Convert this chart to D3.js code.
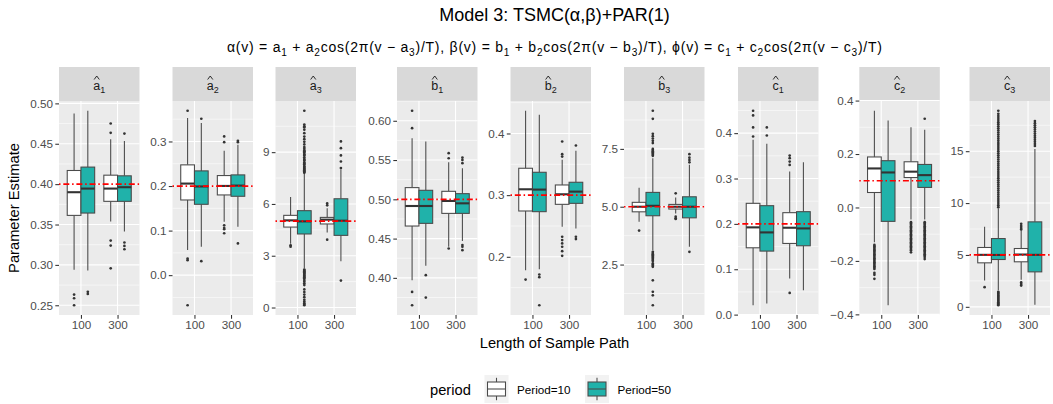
<!DOCTYPE html>
<html><head><meta charset="utf-8">
<script src="https://cdn.jsdelivr.net/npm/d3@7"></script>
<style>
body{margin:0;background:#fff;}
svg{display:block;font-family:"Liberation Sans",Arial,Helvetica,sans-serif;}
</style>
</head><body>
<svg id="chart" width="1053" height="404"></svg>
<script>
// ---------------- data ----------------
const facetLetters = ["a","a","a","b","b","b","c","c","c"];
const facetSubs    = ["1","2","3","1","2","3","1","2","3"];
const lengths = ["100","300"];
const periods = ["Period=10","Period=50"];
const trueValues = [0.4, 0.2, 5, 0.5, 0.3, 5, 0.2, 0.1, 5];
const yTicks = [
  [0.25,0.30,0.35,0.40,0.45,0.50],
  [0.0,0.1,0.2,0.3],
  [0,3,6,9],
  [0.40,0.45,0.50,0.55,0.60],
  [0.2,0.3,0.4],
  [2.5,5.0,7.5],
  [0.0,0.1,0.2,0.3,0.4],
  [-0.4,-0.2,0.0,0.2,0.4],
  [0,5,10,15]
];
const yFormats = [".2f",".1f","d",".2f",".1f",".1f",".1f",".1f","d"];
// box order: [100 P10, 100 P50, 300 P10, 300 P50]; stats: [lower whisker, q1, median, q3, upper whisker]
const a1Stats = [[0.294,0.3613,0.390,0.4169,0.4875],[0.2932,0.3642,0.3945,0.4211,0.4909],[0.3538,0.3787,0.3945,0.4111,0.4556],[0.3414,0.3787,0.3962,0.4103,0.4535]];
const a2Stats = [[0.0562,0.1687,0.2055,0.2475,0.3525],[0.0637,0.159,0.199,0.234,0.3413],[0.12,0.18,0.2002,0.2235,0.279],[0.1087,0.177,0.201,0.225,0.2925]];
const a3Stats = [[3.7,4.66,5.05,5.34,6.4],[2.26,4.26,4.99,5.61,7.75],[4.35,4.84,5.09,5.22,5.75],[2.68,4.18,5.03,6.3,8.0]];
const b1Stats = [[0.397,0.466,0.4915,0.5149,0.5779],[0.4153,0.4694,0.4915,0.5115,0.5736],[0.4396,0.4821,0.4979,0.5102,0.5472],[0.4468,0.4821,0.4949,0.5072,0.5396]];
const b2Stats = [[0.1783,0.2743,0.3095,0.3436,0.4369],[0.18,0.2732,0.309,0.3371,0.4304],[0.2488,0.2851,0.3014,0.3165,0.3572],[0.2461,0.2867,0.3057,0.3209,0.3718]];
const b3Stats = [[4.35,4.78,5.0,5.19,5.82],[3.12,4.61,5.04,5.62,7.1],[4.71,4.9,5.0,5.1,5.4],[3.27,4.52,5.0,5.43,6.81]];
const c1Stats = [[0.0206,0.1473,0.1923,0.2453,0.3853],[0.0243,0.14,0.1812,0.2401,0.3764],[0.0796,0.1569,0.1915,0.2247,0.3153],[0.0538,0.1517,0.19,0.2269,0.3359]];
const c2Stats = [[-0.13,0.056,0.146,0.189,0.362],[-0.366,-0.052,0.131,0.175,0.325],[-0.045,0.112,0.134,0.171,0.30],[-0.045,0.075,0.121,0.161,0.291]];
const c3Stats = [[2.54,4.24,5.01,5.72,7.71],[1.6,4.56,5.0,6.58,9.5],[2.6,4.34,5.04,5.62,7.3],[0.2,3.37,5.01,8.19,15.2]];

const a1Outliers = [[0.2633,0.2587,0.25],[0.2666,0.2641],[0.4751,0.4635,0.3301,0.3239,0.2957],[0.4626,0.3277,0.3235,0.3194]];
const a2Outliers = [[0.369,0.0374,0.0337,-0.0676],[0.351,0.0314],[0.3113,0.2985,0.112,0.106,0.103,0.094],[0.3015,0.2985,0.0712]];
const a3Outliers = [[3.6,3.52],
  [7.8,7.85,7.9,7.95,8.0,8.05,8.1,8.15,8.2,8.3,8.35,8.4,8.5,8.55,8.6,8.7,8.8,8.85,8.9,9.0,9.05,9.1,9.2,9.3,9.45,9.6,9.75,9.9,10.1,10.3,10.45,10.5,10.6,11.4,
   2.2,2.15,2.1,2.05,2.0,1.95,1.9,1.85,1.8,1.75,1.7,1.6,1.5,1.4,1.3,1.05,0.9,0.75,0.6,0.45,0.35,0.25,0.18,0.13],
  [6.03,5.92,3.93],
  [8.08,8.46,8.81,9.23,9.62,1.56]];
const b1Outliers = [[0.6128,0.5906,0.3821,0.3651],[0.4034,0.3749],[0.5587,0.5523,0.4374],[0.5532,0.5502,0.546,0.4417,0.4396,0.4353]];
const b2Outliers = [[0.1631],[0.1713,0.1669,0.1214],[0.387,0.3664,0.3626,0.2325,0.2271,0.2217,0.2163,0.2092,0.2016],[0.3805,0.2325,0.2287]];
const b3Outliers = [[3.97],
  [9.15,8.8,8.15,8.05,7.95,7.85,7.75,7.5,7.45,7.4,7.35,7.3,7.25,7.2,
   3.05,3.0,2.95,2.9,2.85,2.8,2.75,2.7,2.65,2.55,2.5,2.45,2.4,1.82,1.32,1.17,0.74],
  [5.58,4.57,4.5,4.47],
  [7.27,7.12,7.02,6.92,3.05]];
const c1Outliers = [[0.4494,0.439,0.4125,0.3926],[0.4125,0.3948],[0.3506,0.3448,0.3374,0.33,0.0479],[]];
const c2Outliers = [
  [-0.14,-0.145,-0.15,-0.155,-0.16,-0.165,-0.17,-0.175,-0.18,-0.185,-0.19,-0.195,-0.2,-0.205,-0.21,-0.215,-0.22,-0.225,-0.23,-0.245,-0.252,-0.267],
  [],
  [-0.055,-0.06,-0.065,-0.07,-0.075,-0.08,-0.085,-0.09,-0.095,-0.1,-0.105,-0.11,-0.115,-0.12,-0.125,-0.13,-0.135,-0.14,-0.145,-0.15,-0.155,-0.16,-0.168],
  [0.332,-0.055,-0.06,-0.065,-0.07,-0.075,-0.08,-0.085,-0.09,-0.095,-0.1,-0.105,-0.11,-0.115,-0.12,-0.125,-0.13,-0.135,-0.14,-0.145,-0.15,-0.155,-0.16,-0.165,-0.17,-0.175,-0.18,-0.185,-0.193]];
const c3Outliers = [[1.89],
  [9.6,9.8,10.0,10.2,10.4,10.6,10.8,11.0,11.2,11.4,11.6,11.8,12.0,12.2,12.4,12.6,12.8,13.0,13.2,13.4,13.6,13.8,14.0,14.2,14.4,14.6,14.8,15.0,15.2,15.4,15.6,15.8,16.0,16.2,16.4,16.6,16.8,17.0,17.2,17.4,17.6,17.8,18.0,18.2,18.4,18.6,18.9,
   1.45,1.35,1.25,1.15,1.05,0.95,0.85,0.75,0.65,0.55,0.45,0.35,0.25,0.15],
  [8.0,7.8,7.6,7.45,2.35,2.2,2.05],
  [15.5,15.7,15.9,16.1,16.3,16.5,16.7,16.9,17.1,17.3,17.5,17.7,17.9]];

const allStats = [a1Stats,a2Stats,a3Stats,b1Stats,b2Stats,b3Stats,c1Stats,c2Stats,c3Stats];
const allOutliers = [a1Outliers,a2Outliers,a3Outliers,b1Outliers,b2Outliers,b3Outliers,c1Outliers,c2Outliers,c3Outliers];
const boxKeys = [["100","Period=10"],["100","Period=50"],["300","Period=10"],["300","Period=50"]];
const fillColors = {"Period=10":"#FFFFFF","Period=50":"#20B2AA"};

// ---------------- layout ----------------
const panelLefts = [59, 172.5, 275.5, 397, 510.5, 624, 738, 859.3, 969.5];
const panelW = 80.5, stripTop = 67, panelTop = 101, panelBottom = 315;
const INK = "#333333", EDGE = "#4a4a4a", AXIS_TXT = "#4D4D4D";
const svg = d3.select("#chart");

// titles
svg.append("text").attr("x",554.5).attr("y",21).attr("text-anchor","middle")
  .attr("font-size",18).attr("fill","#000").text("Model 3: TSMC(α,β)+PAR(1)");

function richText(sel, parts, size){
  parts.forEach(p=>{
    if(p[1]) sel.append("tspan").attr("font-size",size*0.72).attr("dy",size*0.28).text(p[0]);
    else { const t=sel.append("tspan").text(p[0]); if(p[2]) t.attr("dy",-size*0.28); }
  });
}
const sub = svg.append("text").attr("x",554.5).attr("y",52).attr("text-anchor","middle")
  .attr("font-size",14).attr("fill","#000")
  .attr("textLength",655).attr("lengthAdjust","spacing");
const subParts = [
  ["α(v) = a"],["1",1],[" + a",0,1],["2",1],["cos(2π(v − a",0,1],["3",1],[")/T),  β(v) = b",0,1],["1",1],[" + b",0,1],["2",1],["cos(2π(v − b",0,1],["3",1],
  [")/T),   ϕ(v) = c",0,1],["1",1],[" + c",0,1],["2",1],["cos(2π(v − c",0,1],["3",1],[")/T)",0,1]
];
richText(sub, subParts, 14);

// facets
facetLetters.forEach((letter, i)=>{
  const left = panelLefts[i], right = left + panelW;
  const stats = allStats[i], outs = allOutliers[i];
  const allVals = stats.flat().concat(outs.flat());
  const lo = d3.min(allVals), hi = d3.max(allVals), pad = (hi-lo)*0.05;
  const y = d3.scaleLinear().domain([lo-pad, hi+pad]).range([panelBottom, panelTop]);
  const x = d3.scalePoint().domain(lengths).range([left, right]).padding(0.6);
  const step = x.step();
  const dodge = d3.scaleBand().domain(periods).range([-0.375*step, 0.375*step]);
  const bw = dodge.bandwidth();
  const g = svg.append("g");

  // strip
  g.append("rect").attr("x",left).attr("y",stripTop).attr("width",panelW).attr("height",panelTop-stripTop).attr("fill","#D9D9D9");
  const cx = left + panelW/2;
  const lab = g.append("text").attr("y",90).attr("font-size",12.5).attr("fill","#1A1A1A");
  const tA = lab.append("tspan").text(letter);
  lab.append("tspan").attr("font-size",9).attr("dy",3).text(facetSubs[i]);
  const wAll = lab.node().getComputedTextLength();
  const wA = tA.node().getComputedTextLength();
  const x0 = cx - wAll/2;
  lab.attr("x", x0);
  const hx = x0 + wA/2;
  g.append("path").attr("d",`M${hx-2.6},${79.5}L${hx},${76}L${hx+2.6},${79.5}`)
    .attr("fill","none").attr("stroke","#1A1A1A").attr("stroke-width",0.9);

  // panel
  g.append("rect").attr("x",left).attr("y",panelTop).attr("width",panelW).attr("height",panelBottom-panelTop).attr("fill","#EBEBEB");
  const ticks = yTicks[i];
  const tstep = ticks[1]-ticks[0];
  const minors = [ticks[0]-tstep/2].concat(ticks.map(t=>t+tstep/2))
    .filter(v=>v>=y.domain()[0] && v<=y.domain()[1]);
  g.selectAll(".minor").data(minors).enter().append("line")
    .attr("x1",left).attr("x2",right).attr("y1",d=>y(d)).attr("y2",d=>y(d))
    .attr("stroke","#fff").attr("stroke-width",0.55);
  g.selectAll(".major").data(ticks).enter().append("line")
    .attr("x1",left).attr("x2",right).attr("y1",d=>y(d)).attr("y2",d=>y(d))
    .attr("stroke","#fff").attr("stroke-width",1.1);
  g.selectAll(".vmajor").data(lengths).enter().append("line")
    .attr("x1",d=>x(d)).attr("x2",d=>x(d)).attr("y1",panelTop).attr("y2",panelBottom)
    .attr("stroke","#fff").attr("stroke-width",1.1);

  // boxplots
  boxKeys.forEach((k, j)=>{
    const c = x(k[0]) + dodge(k[1]) + bw/2;
    const s = stats[j];
    const bg = g.append("g");
    bg.selectAll("circle").data(outs[j]).enter().append("circle")
      .attr("cx",c).attr("cy",d=>y(d)).attr("r",1.35).attr("fill",INK);
    bg.append("line").attr("x1",c).attr("x2",c).attr("y1",y(s[0])).attr("y2",y(s[1]))
      .attr("stroke",EDGE).attr("stroke-width",1.07);
    bg.append("line").attr("x1",c).attr("x2",c).attr("y1",y(s[3])).attr("y2",y(s[4]))
      .attr("stroke",EDGE).attr("stroke-width",1.07);
    bg.append("rect").attr("x",c-bw/2).attr("y",y(s[3])).attr("width",bw).attr("height",y(s[1])-y(s[3]))
      .attr("fill",fillColors[k[1]]).attr("stroke",EDGE).attr("stroke-width",1.07);
    bg.append("line").attr("x1",c-bw/2).attr("x2",c+bw/2).attr("y1",y(s[2])).attr("y2",y(s[2]))
      .attr("stroke",INK).attr("stroke-width",2.1);
  });

  // reference line
  g.append("line").attr("x1",left).attr("x2",right).attr("y1",y(trueValues[i])).attr("y2",y(trueValues[i]))
    .attr("stroke","#FF0000").attr("stroke-width",1.7).attr("stroke-dasharray","1.5,2.8,6,2.8");

  // axes
  const fmt = d3.format(yFormats[i]);
  const ya = g.append("g").attr("transform",`translate(${left},0)`)
    .call(d3.axisLeft(y).tickValues(ticks).tickFormat(fmt).tickSize(3.7).tickPadding(2.2));
  const xa = g.append("g").attr("transform",`translate(0,${panelBottom})`)
    .call(d3.axisBottom(x).tickSize(3.7).tickPadding(2.2));
  [ya, xa].forEach(a=>{
    a.select(".domain").remove();
    a.selectAll(".tick line").attr("stroke",INK).attr("stroke-width",1.07);
    a.selectAll(".tick text").attr("fill",AXIS_TXT).attr("font-size",11.7)
      .attr("font-family","Liberation Sans, Arial, sans-serif");
  });
});

// axis titles
svg.append("text").attr("transform",`translate(19,${(panelTop+panelBottom)/2}) rotate(-90)`)
  .attr("text-anchor","middle").attr("font-size",14.7).attr("fill","#000").text("Parameter Estimate");
svg.append("text").attr("x",554.5).attr("y",348).attr("text-anchor","middle")
  .attr("font-size",14.7).attr("fill","#000").text("Length of Sample Path");

// legend
const lg = svg.append("g");
lg.append("text").attr("x",430).attr("y",395).attr("font-size",14.7).attr("fill","#000").text("period");
const keyX = [484.5, 585];
periods.forEach((p, i)=>{
  const kx = keyX[i], ky = 375, kw = 24, kh = 28;
  const k = lg.append("g");
  k.append("rect").attr("x",kx).attr("y",ky).attr("width",kw).attr("height",kh).attr("fill","#F2F2F2");
  const c = kx + kw/2;
  k.append("line").attr("x1",c).attr("x2",c).attr("y1",ky+kh*0.1).attr("y2",ky+kh*0.9)
    .attr("stroke",EDGE).attr("stroke-width",1.07);
  k.append("rect").attr("x",kx+kw*0.125).attr("y",ky+kh*0.25).attr("width",kw*0.75).attr("height",kh*0.5)
    .attr("fill",fillColors[p]).attr("stroke",EDGE).attr("stroke-width",1.07);
  k.append("line").attr("x1",kx+kw*0.125).attr("x2",kx+kw*0.875).attr("y1",ky+kh/2).attr("y2",ky+kh/2)
    .attr("stroke",EDGE).attr("stroke-width",1.07);
  lg.append("text").attr("x",kx+kw+8.5).attr("y",393.5).attr("font-size",11.7).attr("fill","#000").text(p);
});
</script>
</body></html>
